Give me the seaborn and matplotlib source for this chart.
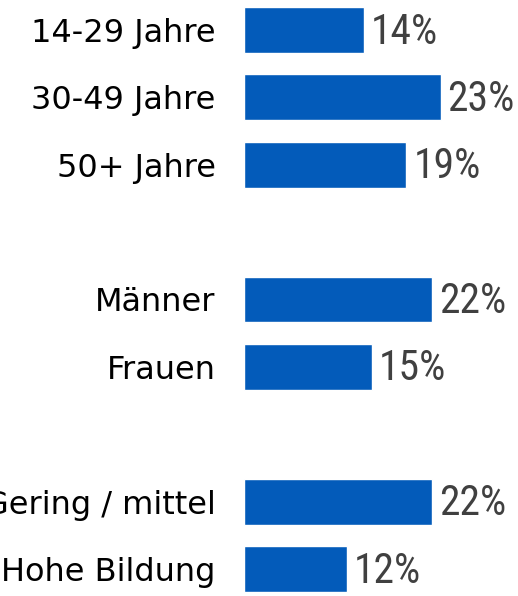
import numpy as np
import pandas as pd
import matplotlib
matplotlib.use("Agg")
import matplotlib.pyplot as plt
import seaborn as sns

# ==========================================
# Data
# ==========================================

group_labels = [
    ["14-29 Jahre", "30-49 Jahre", "50+ Jahre"],
    ["Männer", "Frauen"],
    ["Gering / mittel", "Hohe Bildung"],
]
group_values = [
    [14, 23, 19],
    [22, 15],
    [22, 12],
]

bar_color = "#035BBA"
value_color = "#404040"

# build rows, one empty slot between groups
labels = []
values = []
positions = []
pos = 0
for g_lab, g_val in zip(group_labels, group_values):
    for lab, val in zip(g_lab, g_val):
        labels.append(lab)
        values.append(val)
        positions.append(pos)
        pos += 1
    pos += 1

df = pd.DataFrame({"label": labels, "value": values, "pos": positions})

# ==========================================
# Plot
# ==========================================

sns.set_style("white")

fig = plt.figure(figsize=(5.18, 5.96), dpi=100)
ax = fig.add_axes([0.471, -0.0112, 0.529, 1.0174])

sns.barplot(data=df, x="value", y="pos", orient="h", native_scale=True,
            color=bar_color, width=0.68, saturation=1, ax=ax)

ax.set_ylim(8.5, -0.5)
ax.set_xlim(0, 274 / 8.55)

ax.set_yticks(df["pos"])
ax.set_yticklabels(df["label"], fontsize=23, color="black",
                   family=["DejaVu Sans"])
ax.tick_params(axis="y", length=0, pad=20.5)
ax.set_xticks([])
ax.set_xlabel("")
ax.set_ylabel("")
for s in ax.spines.values():
    s.set_visible(False)

# value labels next to the bars
for v, p in zip(df["value"], df["pos"]):
    ax.text(v + 0.8, p + 0.03, f"{v}%", va="center", ha="left",
            fontsize=30, color=value_color, weight="normal",
            family=["Roboto Condensed", "DejaVu Sans"])

fig.savefig("out.png", dpi=100)
plt.close()
